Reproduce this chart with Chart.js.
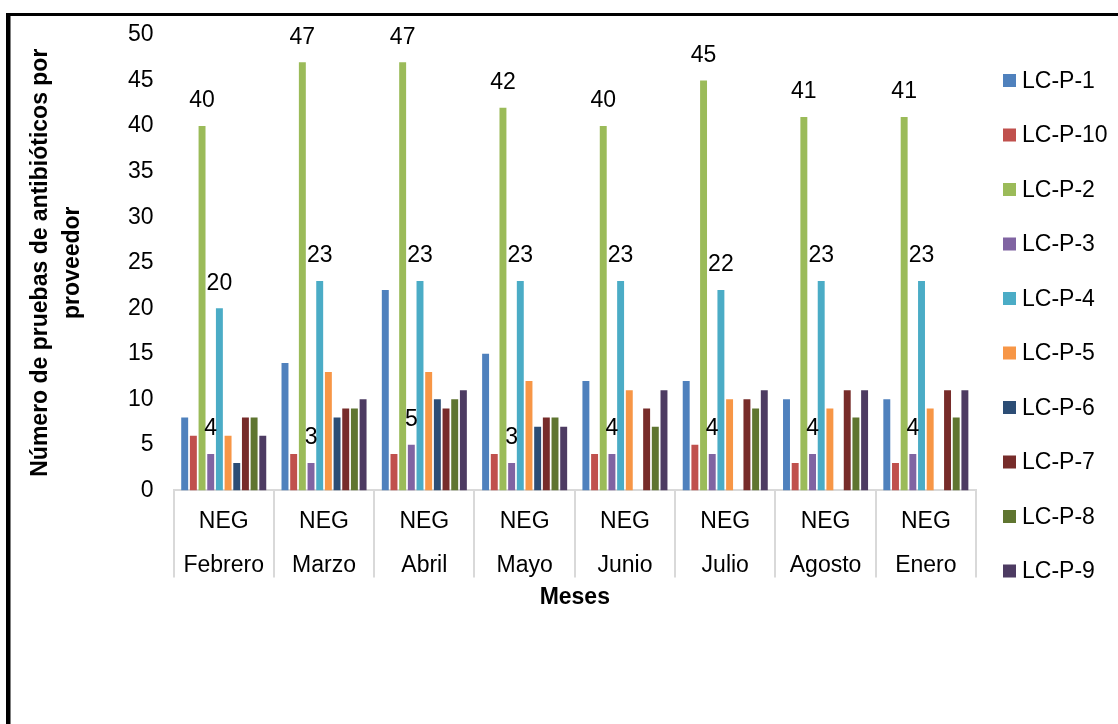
<!DOCTYPE html>
<html><head><meta charset="utf-8">
<script src="https://cdn.jsdelivr.net/npm/chart.js@4"></script>
<style>html,body{margin:0;padding:0;background:#fff;}#wrap{width:1118px;height:724px;position:relative;}</style>
</head><body><div id="wrap"><canvas id="c"></canvas></div>
<script>
// ---- data ----
const months = ['Febrero','Marzo','Abril','Mayo','Junio','Julio','Agosto','Enero'];
const resultLabel = 'NEG';
const seriesNames = ['LC-P-1','LC-P-10','LC-P-2','LC-P-3','LC-P-4','LC-P-5','LC-P-6','LC-P-7','LC-P-8','LC-P-9'];
const lcp1  = [8,14,22,15,12,12,10,10];
const lcp10 = [6,4,4,4,4,5,3,3];
const lcp2  = [40,47,47,42,40,45,41,41];
const lcp3  = [4,3,5,3,4,4,4,4];
const lcp4  = [20,23,23,23,23,22,23,23];
const lcp5  = [6,13,13,12,11,10,9,9];
const lcp6  = [3,8,10,7,null,null,null,null];
const lcp7  = [8,9,9,8,9,10,11,11];
const lcp8  = [8,9,10,8,7,9,8,8];
const lcp9  = [6,10,11,7,11,11,11,11];
const yMin = 0, yMax = 50, yStep = 5;
const labeledSeries = ['LC-P-2','LC-P-3','LC-P-4'];
const yTitle = ['Número de pruebas de antibióticos por','proveedor'];
const xTitle = 'Meses';

// ---- style ----
const colors = ['#4F81BD','#C0504D','#9BBB59','#8064A2','#4BACC6','#F79646','#2C4D75','#772C2A','#5F7530','#4D3B62'];
const FONT = "'Liberation Sans', Arial, sans-serif";
const FS = 23;
const seriesValues = [lcp1,lcp10,lcp2,lcp3,lcp4,lcp5,lcp6,lcp7,lcp8,lcp9];

const datasets = seriesNames.map((n,i)=>({
  label:n, data:seriesValues[i], backgroundColor:colors[i],
  borderWidth:0, categoryPercentage:0.865, barPercentage:0.8
}));

const borderPlugin = {
  id:'frame',
  beforeDraw(chart){
    const c = chart.ctx;
    c.save(); c.fillStyle='#fff'; c.fillRect(0,0,chart.width,chart.height);
    c.fillStyle='#000';
    c.fillRect(6,13,chart.width-6,3);
    c.fillRect(6,13,4.5,chart.height-13);
    c.restore();
  }
};
const labelPlugin = {
  id:'vals',
  afterDatasetsDraw(chart){
    const c = chart.ctx;
    c.save();
    c.font = FS+'px '+FONT; c.fillStyle='#000'; c.textAlign='center'; c.textBaseline='middle';
    chart.data.datasets.forEach((ds,di)=>{
      if(!labeledSeries.includes(ds.label)) return;
      const meta = chart.getDatasetMeta(di);
      meta.data.forEach((bar,j)=>{
        const v = ds.data[j];
        if(v==null) return;
        c.fillText(String(v), bar.x, bar.y-25);
      });
    });
    c.restore();
  }
};
const legendPlugin = {
  id:'sideLegend',
  afterDraw(chart){
    const c = chart.ctx;
    c.save();
    c.font = FS+'px '+FONT; c.textBaseline='middle'; c.textAlign='left';
    chart.data.datasets.forEach((ds,i)=>{
      const y = 80.5 + i*54.5;
      c.fillStyle = ds.backgroundColor;
      c.fillRect(1003, y-6.5, 13, 13);
      c.fillStyle = '#000';
      c.fillText(ds.label, 1022, y+1);
    });
    c.restore();
  }
};

new Chart(document.getElementById('c'), {
  type:'bar',
  data:{ labels: months.map(m=>[resultLabel,m]), datasets },
  options:{
    responsive:true, maintainAspectRatio:false, animation:false,
    layout:{ padding:{ left:25, top:35, right:142, bottom:113 } },
    plugins:{ legend:{display:false}, tooltip:{enabled:false} },
    scales:{
      x:{
        grid:{ offset:true, drawOnChartArea:false, drawTicks:true, tickLength:87, color:'#d9d9d9', lineWidth:2 },
        border:{ display:true, color:'#d9d9d9', width:2 },
        ticks:{ color:'#000', font:{ family:FONT, size:FS, lineHeight:44/23 }, padding:-78, maxRotation:0, autoSkip:false },
        title:{ display:true, text:xTitle, color:'#000', font:{ family:FONT, size:FS, weight:'bold', lineHeight:1.2 }, padding:{top:74,bottom:0} }
      },
      y:{
        min:yMin, max:yMax,
        grid:{ display:false, drawTicks:false },
        border:{ display:false },
        ticks:{ stepSize:yStep, color:'#000', font:{ family:FONT, size:FS }, padding:20 },
        title:{ display:true, text:yTitle, color:'#000', font:{ family:FONT, size:FS, weight:'bold', lineHeight:32/23 }, padding:{top:0,bottom:19} }
      }
    }
  },
  plugins:[borderPlugin,labelPlugin,legendPlugin]
});
</script></body></html>
